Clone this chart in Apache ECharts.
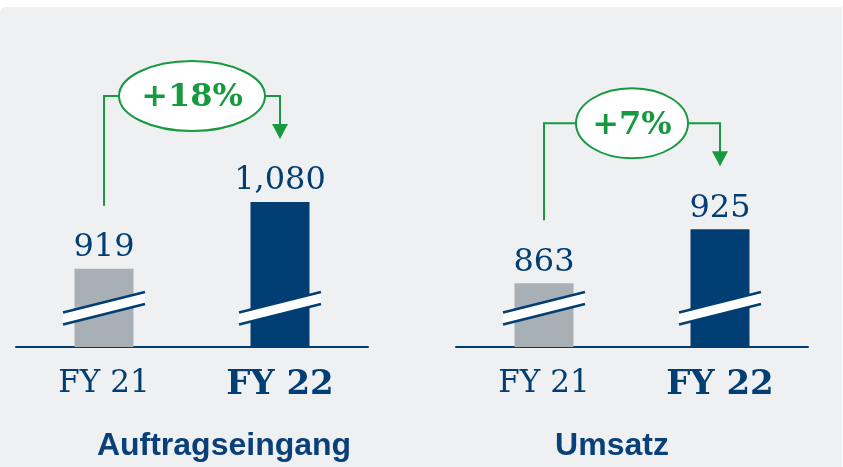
<!DOCTYPE html>
<html>
<head>
<meta charset="utf-8">
<script src="https://cdn.jsdelivr.net/npm/echarts@6/dist/echarts.min.js"></script>
</head>
<body style="margin:0;background:#fff">
<div id="container" style="width:843px;height:467px"></div>
<script>
var categories = ['FY 21', 'FY 22'];
var orderIntake = [919, 1080];
var revenue = [863, 925];
var growthLabels = ['+18%', '+7%'];
var panelTitles = ['Auftragseingang', 'Umsatz'];

var navy = '#003e74';
var grey = '#a8b0b5';
var green = '#16993f';
var serif = '"DejaVu Serif", Georgia, serif';
var sans = '"Liberation Sans", Arial, sans-serif';

var panels = [orderIntake, revenue];
// broken axis: bars start well above zero
var yMin = [730, 790];
var yMax = [1500, 1150];
var grids = [
  {left: 16, right: 475, top: 28, bottom: 120},
  {left: 456, right: 35, top: 33, bottom: 120}
];
var titleX = [224, 612];

function breakMark(i) {
  return function (params, api) {
    var base = api.coord([api.value(0), yMin[i]]);
    var cx = base[0], by = base[1];
    var w = 41;
    return {
      type: 'group',
      children: [
        {type: 'polygon', shape: {points: [[cx - w, by - 22.5], [cx + w, by - 43], [cx + w, by - 55], [cx - w, by - 34.5]]},
          style: {fill: '#fff'}},
        {type: 'line', shape: {x1: cx - w, y1: by - 22.5, x2: cx + w, y2: by - 43}, style: {stroke: navy, lineWidth: 2.5}},
        {type: 'line', shape: {x1: cx - w, y1: by - 34.5, x2: cx + w, y2: by - 55}, style: {stroke: navy, lineWidth: 2.5}}
      ]
    };
  };
}

function connector(i) {
  return function (params, api) {
    var p1 = api.coord([api.value(0), api.value(1)]);
    var p2 = api.coord([api.value(2), api.value(3)]);
    var label = growthLabels[i];
    var hy = p2[1] - 106, sy = p1[1] - 63, ty = p2[1] - 63;
    var mx = (p1[0] + p2[0]) / 2;
    var rx = label.length * 17 + 5;
    var line = {stroke: green, lineWidth: 2, fill: null};
    return {
      type: 'group',
      children: [
        {type: 'polyline', shape: {points: [[p1[0], sy], [p1[0], hy], [mx - rx, hy]]}, style: line},
        {type: 'polyline', shape: {points: [[mx + rx, hy], [p2[0], hy], [p2[0], ty - 14]]}, style: line},
        {type: 'polygon', shape: {points: [[p2[0] - 8, ty - 15], [p2[0] + 8, ty - 15], [p2[0], ty]]}, style: {fill: green}},
        {type: 'ellipse', shape: {cx: mx, cy: hy, rx: rx, ry: 35}, style: {fill: '#fff', stroke: green, lineWidth: 2}},
        {type: 'text', x: mx, y: hy + 2, style: {text: label, fill: green, font: 'bold 32px ' + serif,
          align: 'center', verticalAlign: 'middle'}}
      ]
    };
  };
}

var series = [];
panels.forEach(function (vals, i) {
  series.push({
    type: 'bar', xAxisIndex: i, yAxisIndex: i, barWidth: 59,
    data: vals.map(function (v, k) {
      return {value: v, itemStyle: {color: k === 0 ? grey : navy}};
    }),
    label: {
      show: true, position: 'top', distance: 5, color: navy,
      fontFamily: serif, fontSize: 32,
      formatter: function (p) { return p.value.toLocaleString('en-US'); }
    }
  });
  series.push({
    type: 'custom', xAxisIndex: i, yAxisIndex: i, z: 5,
    renderItem: breakMark(i),
    data: vals.map(function (v, k) { return [k, v]; })
  });
  series.push({
    type: 'custom', xAxisIndex: i, yAxisIndex: i, z: 5,
    renderItem: connector(i),
    encode: {x: [0, 2], y: [1, 3]},
    data: [[0, vals[0], 1, vals[1]]]
  });
});

var myChart = echarts.init(document.getElementById('container'));
var option = {
  backgroundColor: '#fff',
  animation: false,
  grid: grids,
  xAxis: grids.map(function (g, i) {
    return {
      type: 'category', gridIndex: i, data: categories,
      axisTick: {show: false},
      axisLine: {lineStyle: {color: navy, width: 2}},
      axisLabel: {
        margin: 21,
        formatter: function (v, idx) { return idx === 1 ? '{b|' + v + '}' : '{a|' + v + '}'; },
        rich: {
          a: {fontFamily: serif, fontSize: 31, color: navy},
          b: {fontFamily: serif, fontSize: 34, fontWeight: 'bold', color: navy}
        }
      }
    };
  }),
  yAxis: grids.map(function (g, i) {
    return {type: 'value', gridIndex: i, min: yMin[i], max: yMax[i], show: false, splitLine: {show: false}};
  }),
  graphic: [
    {type: 'rect', z: -10, silent: true, shape: {x: 0, y: 7, width: 842, height: 460, r: [6, 0, 0, 0]},
      style: {fill: '#eff0f2'}}
  ].concat(panelTitles.map(function (t, i) {
    return {type: 'text', x: titleX[i], y: 446,
      style: {text: t, fill: '#0a4079', font: 'bold 32px ' + sans, align: 'center', verticalAlign: 'middle'}};
  })),
  series: series
};
myChart.setOption(option);
</script>
</body>
</html>
